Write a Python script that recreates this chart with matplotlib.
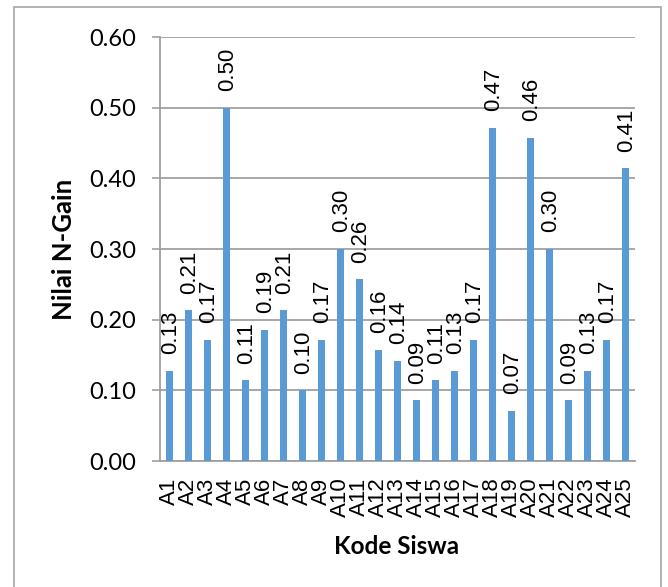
import matplotlib
matplotlib.use("Agg")
import matplotlib.pyplot as plt
from matplotlib.patches import Rectangle

categories = ["A1", "A2", "A3", "A4", "A5", "A6", "A7", "A8", "A9", "A10",
              "A11", "A12", "A13", "A14", "A15", "A16", "A17", "A18", "A19", "A20",
              "A21", "A22", "A23", "A24", "A25"]
values = [0.128, 0.213, 0.171, 0.500, 0.114, 0.186, 0.213, 0.100, 0.171, 0.300,
          0.257, 0.157, 0.142, 0.086, 0.114, 0.128, 0.171, 0.471, 0.071, 0.457,
          0.300, 0.086, 0.128, 0.171, 0.414]
yticks = [0.0, 0.1, 0.2, 0.3, 0.4, 0.5, 0.6]

W, H = 668, 587
fig = plt.figure(figsize=(W / 100, H / 100), dpi=100)
ax = fig.add_axes([160 / W, 1 - 461 / H, 475 / W, 424 / H])

bar_color = "#5B9BD5"
grid_color = "#A0A0A0"
x = list(range(len(categories)))
bars = ax.bar(x, values, width=0.42, color=bar_color, zorder=3)

ax.set_xlim(-0.5, len(categories) - 0.5)
ax.set_ylim(0, 0.6)
ax.set_yticks(yticks)
ax.set_yticklabels([f"{v:.2f}" for v in yticks], fontfamily="Lato", fontsize=17)
ax.yaxis.grid(True, color=grid_color, linewidth=1.3, zorder=0)
ax.set_axisbelow(True)

ax.set_xticks(x)
ax.set_xticklabels(categories, rotation=90, fontfamily="Liberation Sans", fontsize=16)
ax.tick_params(axis="x", length=0, pad=12)
ax.tick_params(axis="y", length=6, width=1.2, color=grid_color, pad=11, direction="out")

for s in ["top", "right"]:
    ax.spines[s].set_visible(False)
for s in ["left", "bottom"]:
    ax.spines[s].set_color(grid_color)
    ax.spines[s].set_linewidth(1.3)

for xi, v in zip(x, values):
    ax.annotate(f"{v:.2f}", xy=(xi, v), xytext=(1, 12), textcoords="offset points",
                rotation=90, ha="center", va="bottom",
                fontfamily="Liberation Sans", fontsize=16)

fig.text(64 / W, 1 - 249 / H, "Nilai N-Gain", rotation=90, ha="center", va="center",
         fontfamily="Lato", fontweight="bold", fontsize=18.5)
fig.text(396.5 / W, 1 - 546 / H, "Kode Siswa", ha="center", va="center",
         fontfamily="Lato", fontweight="bold", fontsize=17.5)

fig.patches.append(Rectangle((14 / W, -0.1), (661 - 14) / W, 1 - 7 / H + 0.1,
                             transform=fig.transFigure, fill=False,
                             edgecolor="#A6A6A6", linewidth=1.2))

fig.savefig("out.png", dpi=100)
